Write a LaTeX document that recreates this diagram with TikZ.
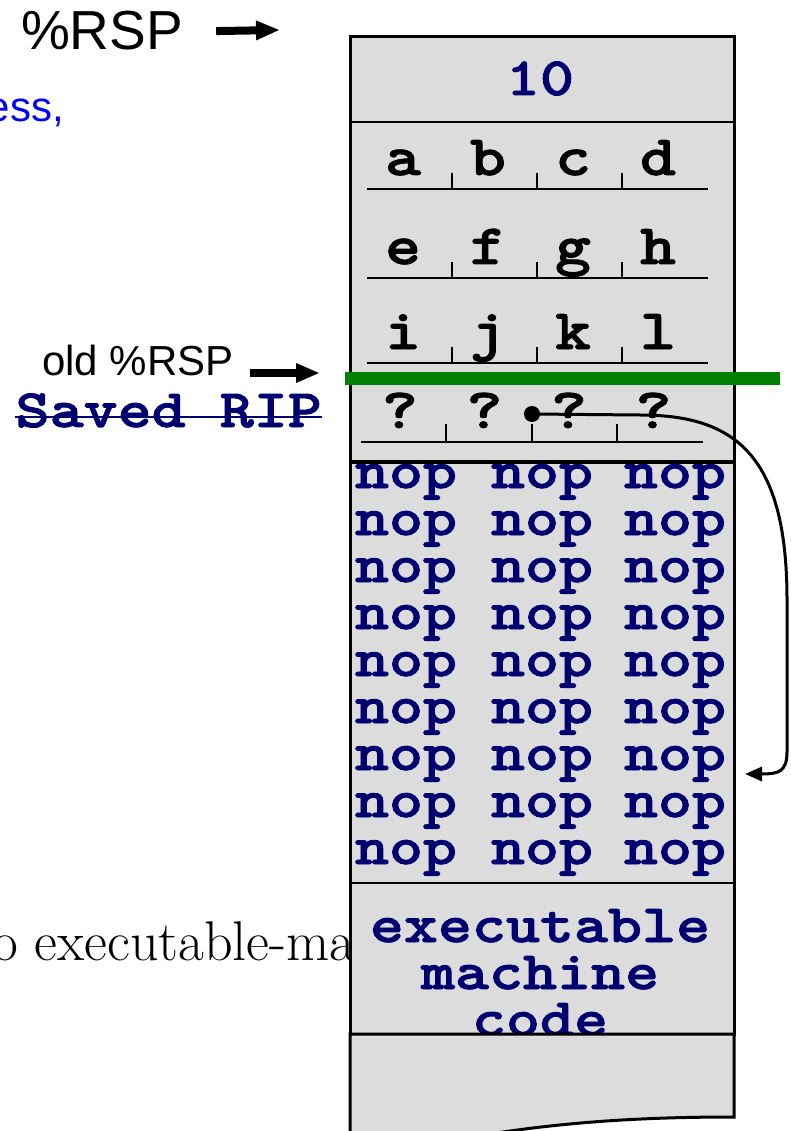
\documentclass[tikz,border=0pt]{standalone}
\usepackage{fontspec}
\newfontfamily\tagfont{Liberation Sans}
\newfontfamily\codefont[FakeStretch=1.2,FakeBold=1.6]{lmmonolt10-bold.otf}
\usetikzlibrary{arrows.meta}
\definecolor{cellgray}{RGB}{220,220,220}
\definecolor{codenavy}{RGB}{0,0,112}
\definecolor{markgreen}{RGB}{0,128,0}

\begin{document}
\begin{tikzpicture}[
    x=1pt,
    y=-1pt,
    every node/.style={inner sep=0pt},
    stackbox/.style={draw=black, fill=cellgray, line width=3pt},
    divider/.style={draw=black, line width=2.8pt},
    slot/.style={draw=black, line width=2.5pt},
    codetext/.style={font=\codefont\fontsize{54}{60}\selectfont, text=codenavy},
    cellchar/.style={font=\codefont\fontsize{57}{60}\selectfont, text=black},
    bigtag/.style={font=\tagfont\fontsize{55}{60}\selectfont},
    smalltag/.style={font=\tagfont\fontsize{42}{48}\selectfont},
    pointer/.style={-{Triangle[length=24pt,width=18pt]}, line width=8pt},
    jump/.style={-{Triangle[length=17pt,width=14pt]}, line width=3pt}
  ]
    \useasboundingbox (0,0) rectangle (791,1131);

    \node[anchor=base west, font=\fontsize{56}{60}\selectfont] (note) at (-28,960) {to executable-machine code};

    \draw[stackbox] (350,37) rectangle (734,1034);

    \node[codetext, anchor=base] (ten) at (540,95) {10};

    \foreach \base/\chars in {175/{a,b,c,d}, 264/{e,f,g,h}, 349/{i,j,k,l}} {
      \draw[slot] (367,\base+14) -- (708,\base+14);
      \foreach \x in {452,537,622}
        \draw[slot] (\x,\base-2) -- (\x,\base+14);
      \foreach \ch [count=\i] in \chars
        \node[cellchar, anchor=base] (cell-\ch) at (318+85*\i,\base) {\ch};
    }

    \draw[slot] (361,442) -- (703,442);
    \foreach \x in {446,532,617}
      \draw[slot] (\x,424) -- (\x,442);
    \foreach \i in {1,...,4}
      \node[cellchar, anchor=base] (unk-\i) at (315.5+84.5*\i,428) {?};

    \draw[divider] (350,122) -- (734,122);
    \draw[divider, line width=3.8pt] (350,462) -- (734,462);
    \draw[divider] (350,883) -- (734,883);

    \foreach \r in {0,...,8}
      \foreach \x [count=\k] in {406,542,675}
        \node[codetext, anchor=base] (nop-\r-\k) at (\x,488+47*\r) {nop};

    \node[codetext, anchor=base] (exe-1) at (540,942) {executable};
    \node[codetext, anchor=base] (exe-2) at (540,989) {machine};
    \node[codetext, anchor=base] (exe-3) at (540,1036) {code};

    \draw[stackbox] (350,1034) -- (734,1034) -- (734,1117)
      .. controls (640,1117) and (540,1122) .. (430,1145) -- (350,1145) -- cycle;

    \draw[markgreen, line width=13pt] (345,378) -- (780,378);

    \coordinate (ret) at (532,414);
    \coordinate (landing) at (745,774);
    \fill (ret) circle[radius=8pt];
    \draw[jump] (ret) -- (640,415) .. controls (735,415) and (787,455) .. (787,600)
      -- (787,752) .. controls (787,772) and (778,774) .. (landing);

    \node[bigtag, anchor=base] (rsp) at (102,50) {\%RSP};
    \coordinate (rsptip) at (280,30);
    \draw[pointer] ([xshift=33pt]rsp.east) -- (rsptip);

    \node[smalltag, text=blue, anchor=base east] (addr) at (64,122) {address,};

    \node[smalltag, anchor=base] (oldrsp) at (138,375) {old \%RSP};
    \coordinate (oldtip) at (320,373);
    \draw[pointer] ([shift={(16pt,2pt)}]oldrsp.base east) -- (oldtip);

    \node[codetext, anchor=base east] (saved) at (322,427) {Saved RIP};
    \draw[codenavy, line width=2.8pt] ([yshift=10pt]saved.base west) -- ([yshift=10pt]saved.base east);
  \end{tikzpicture}
\end{document}
